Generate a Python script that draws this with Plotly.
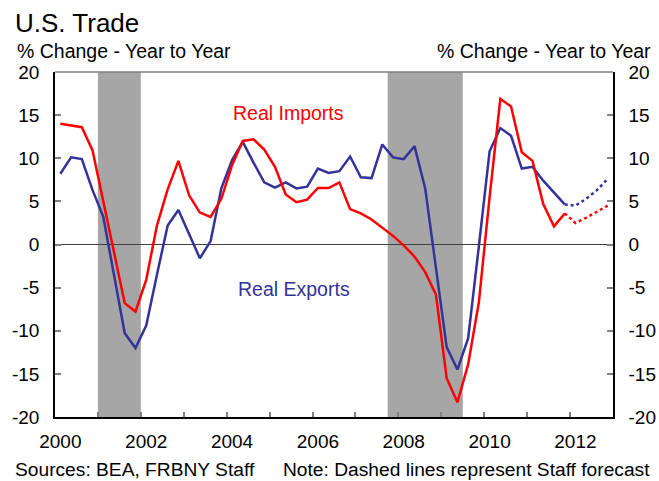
import plotly.graph_objects as go

# ---------------- data ----------------
start_year = 2000
# quarterly, 2000Q1 .. 2011Q4 (actual)
real_imports = [14.0, 13.8, 13.6, 10.9, 5.0, -1.0, -6.8, -7.8,
                -4.1, 2.2, 6.4, 9.7, 5.7, 3.7, 3.2, 5.3,
                9.2, 12.0, 12.2, 11.0, 9.0, 5.8, 4.9, 5.2,
                6.55, 6.55, 7.2, 4.1, 3.6, 2.9, 2.0, 1.0,
                -0.1, -1.4, -3.2, -5.8, -15.5, -18.3, -13.9, -6.7,
                5.5, 16.9, 16.0, 10.7, 9.7, 4.7, 2.1, 3.6]
real_exports = [8.2, 10.1, 9.9, 6.3, 3.2, -3.5, -10.3, -12.0,
                -9.4, -3.5, 2.2, 4.0, 1.2, -1.6, 0.4, 6.5,
                9.8, 11.9, 9.5, 7.2, 6.6, 7.2, 6.5, 6.7,
                8.8, 8.3, 8.5, 10.2, 7.8, 7.7, 11.6, 10.1,
                9.9, 11.4, 6.5, -2.7, -11.9, -14.5, -10.9, -0.2,
                10.8, 13.5, 12.6, 8.8, 9.0, 7.4, 6.0, 4.65]
# forecast, 2011Q4 .. 2012Q4 (staff)
imports_forecast = [3.6, 2.5, 3.1, 3.8, 4.5]
exports_forecast = [4.65, 4.5, 5.3, 6.3, 7.6]
recessions = [(2001.0, 2002.0), (2007.75, 2009.5)]
year_ticks = list(range(2000, 2014))
year_labels = [2000, 2002, 2004, 2006, 2008, 2010, 2012]
y_ticks = [-20, -15, -10, -5, 0, 5, 10, 15, 20]
y_tick_text = [str(v) for v in y_ticks]

def qpos(i):
    return start_year + (i + 0.5) / 4.0

x_actual = [qpos(i) for i in range(len(real_imports))]
x_fc = [qpos(len(real_imports) - 1 + i) for i in range(len(imports_forecast))]

RED = "#FF0000"
BLUE = "#333399"
FONT = "Arial, Liberation Sans, sans-serif"

fig = go.Figure()
for a, b in recessions:
    fig.add_shape(type="rect", xref="x", yref="paper", x0=a, x1=b, y0=0, y1=1,
                  fillcolor="#A6A6A6", line_width=0, layer="below")

fig.add_trace(go.Scatter(x=x_actual, y=real_exports, mode="lines",
                         line=dict(color=BLUE, width=2.5), showlegend=False))
fig.add_trace(go.Scatter(x=x_actual, y=real_imports, mode="lines",
                         line=dict(color=RED, width=2.5), showlegend=False))
fig.add_trace(go.Scatter(x=x_fc, y=exports_forecast, mode="lines",
                         line=dict(color=BLUE, width=2.5, dash="dot"), showlegend=False))
fig.add_trace(go.Scatter(x=x_fc, y=imports_forecast, mode="lines",
                         line=dict(color=RED, width=2.5, dash="dot"), showlegend=False))
# carrier trace for the right axis
fig.add_trace(go.Scatter(x=x_fc, y=imports_forecast, mode="lines", xaxis="x2", yaxis="y2",
                         line=dict(color="rgba(0,0,0,0)", width=0), showlegend=False,
                         hoverinfo="skip"))

TICK_SIZE = 19
fig.update_layout(
    width=659, height=481,
    margin=dict(l=55.3, r=46.3, t=71.7, b=64),
    paper_bgcolor="white", plot_bgcolor="white",
    font=dict(family=FONT, color="black", size=18),
    xaxis=dict(range=[2000, 2013], tickvals=[y + 0.125 for y in year_labels],
               ticktext=[str(y) for y in year_labels], ticks="", showgrid=False,
               zeroline=False, showline=True, linecolor="black", linewidth=1.5,
               tickfont=dict(size=TICK_SIZE), ticklabelstandoff=6, automargin=False),
    xaxis2=dict(range=[2000, 2013], overlaying="x", anchor="y", side="bottom",
                tickvals=year_ticks, showticklabels=False, ticks="inside",
                ticklen=5, tickcolor="#808080", tickwidth=1.5, showgrid=False,
                zeroline=False, showline=False, automargin=False),
    yaxis=dict(range=[-20, 20], tickvals=y_ticks, ticktext=y_tick_text,
               ticks="inside", ticklen=6,
               tickcolor="#808080", tickwidth=1.5, showgrid=False,
               zeroline=True, zerolinecolor="#404040", zerolinewidth=1,
               showline=True, linecolor="black", linewidth=1.5,
               tickfont=dict(size=TICK_SIZE), ticklabelstandoff=10, automargin=False),
    yaxis2=dict(range=[-20, 20], tickvals=y_ticks, ticktext=y_tick_text,
                overlaying="y", side="right",
                anchor="x", ticks="inside", ticklen=6, tickcolor="#808080",
                tickwidth=1.5, showgrid=False, zeroline=False, showline=True,
                linecolor="black", linewidth=1.5, tickfont=dict(size=TICK_SIZE),
                ticklabelstandoff=10, automargin=False),
)

fig.add_shape(type="line", xref="paper", yref="paper", x0=0, x1=1, y0=1, y1=1,
              line=dict(color="#808080", width=1.5))

def ann(text, x, y, xanchor="left", size=19, color="black", xref="paper", yref="paper"):
    fig.add_annotation(text=text, x=x, y=y, xref=xref, yref=yref, xanchor=xanchor,
                       yanchor="middle", showarrow=False,
                       font=dict(family=FONT, size=size, color=color))

ann("U.S. Trade", -0.0759, 1.142, size=26)
ann("% Change - Year to Year", -0.0723, 1.062, size=19.5)
ann("% Change - Year to Year", 1.0723, 1.062, xanchor="right", size=19.5)
ann("Sources: BEA, FRBNY Staff", -0.0759, -0.152, size=19.2)
ann("Note: Dashed lines represent Staff forecast", 1.070, -0.152, xanchor="right", size=19.2)
ann("Real Imports", 2005.43, 15.3, xanchor="center", size=19.5, color=RED, xref="x", yref="y")
ann("Real Exports", 2005.57, -5.2, xanchor="center", size=19.5, color=BLUE, xref="x", yref="y")

fig.write_html("out.html", config={"displayModeBar": False},
               post_script="document.body.style.margin='0';")
